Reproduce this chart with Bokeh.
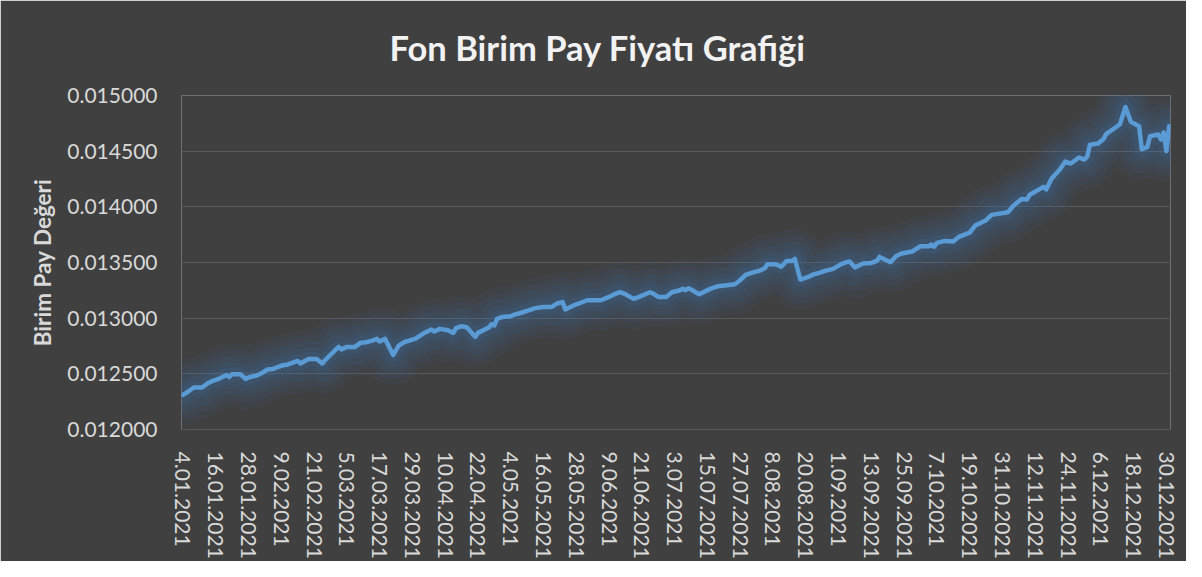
from datetime import datetime
from bokeh.plotting import figure
from bokeh.models import Range1d, FixedTicker, NumeralTickFormatter, ColumnDataSource
from bokeh.embed import file_html
from bokeh.resources import INLINE

# ---------------- data ----------------
dates = [
    "4.01.2021", "6.01.2021", "8.01.2021", "11.01.2021", "13.01.2021", "15.01.2021", "17.01.2021",
    "20.01.2021", "21.01.2021", "22.01.2021", "25.01.2021", "27.01.2021", "28.01.2021", "31.01.2021",
    "2.02.2021", "4.02.2021", "6.02.2021", "8.02.2021", "10.02.2021", "11.02.2021", "15.02.2021",
    "16.02.2021", "19.02.2021", "22.02.2021", "24.02.2021", "25.02.2021", "2.03.2021", "3.03.2021",
    "5.03.2021", "8.03.2021", "10.03.2021", "12.03.2021", "14.03.2021", "16.03.2021", "17.03.2021",
    "19.03.2021", "22.03.2021", "24.03.2021", "26.03.2021", "29.03.2021", "30.03.2021", "2.04.2021",
    "5.04.2021", "6.04.2021", "8.04.2021", "11.04.2021", "13.04.2021", "14.04.2021", "16.04.2021",
    "18.04.2021", "21.04.2021", "22.04.2021", "26.04.2021", "27.04.2021", "28.04.2021", "29.04.2021",
    "1.05.2021", "4.05.2021", "5.05.2021", "7.05.2021", "10.05.2021", "13.05.2021", "16.05.2021",
    "19.05.2021", "21.05.2021", "23.05.2021", "24.05.2021", "27.05.2021", "29.05.2021", "1.06.2021",
    "6.06.2021", "9.06.2021", "11.06.2021", "13.06.2021", "15.06.2021", "18.06.2021", "20.06.2021",
    "24.06.2021", "25.06.2021", "27.06.2021", "30.06.2021", "2.07.2021", "5.07.2021", "6.07.2021",
    "7.07.2021", "8.07.2021", "9.07.2021", "12.07.2021", "16.07.2021", "19.07.2021", "25.07.2021",
    "27.07.2021", "29.07.2021", "1.08.2021", "3.08.2021", "5.08.2021", "6.08.2021", "9.08.2021",
    "11.08.2021", "13.08.2021", "15.08.2021", "16.08.2021", "18.08.2021", "21.08.2021", "23.08.2021",
    "25.08.2021", "27.08.2021", "30.08.2021", "2.09.2021", "4.09.2021", "5.09.2021", "7.09.2021",
    "10.09.2021", "13.09.2021", "15.09.2021", "16.09.2021", "20.09.2021", "22.09.2021", "24.09.2021",
    "28.09.2021", "1.10.2021", "4.10.2021", "5.10.2021", "6.10.2021", "7.10.2021", "10.10.2021",
    "13.10.2021", "15.10.2021", "19.10.2021", "21.10.2021", "25.10.2021", "27.10.2021", "2.11.2021",
    "4.11.2021", "7.11.2021", "9.11.2021", "10.11.2021", "15.11.2021", "16.11.2021", "18.11.2021",
    "21.11.2021", "23.11.2021", "25.11.2021", "28.11.2021", "30.11.2021", "1.12.2021", "2.12.2021",
    "5.12.2021", "7.12.2021", "8.12.2021", "11.12.2021", "13.12.2021", "15.12.2021", "17.12.2021",
    "20.12.2021", "21.12.2021", "23.12.2021", "24.12.2021", "27.12.2021", "28.12.2021", "29.12.2021",
    "30.12.2021", "31.12.2021",
]

prices = [
    0.012311, 0.012341, 0.012377, 0.012377, 0.012413, 0.012437, 0.012454,
    0.012490, 0.012472, 0.012497, 0.012497, 0.012454, 0.012467, 0.012485,
    0.012508, 0.012539, 0.012544, 0.012562, 0.012580, 0.012580, 0.012616,
    0.012593, 0.012634, 0.012634, 0.012593, 0.012622, 0.012742, 0.012719,
    0.012742, 0.012742, 0.012778, 0.012784, 0.012796, 0.012814, 0.012790,
    0.012814, 0.012670, 0.012754, 0.012784, 0.012808, 0.012814, 0.012862,
    0.012898, 0.012880, 0.012904, 0.012892, 0.012868, 0.012910, 0.012928,
    0.012916, 0.012832, 0.012868, 0.012916, 0.012946, 0.012934, 0.012993,
    0.013011, 0.013017, 0.013029, 0.013042, 0.013065, 0.013090, 0.013101,
    0.013101, 0.013132, 0.013144, 0.013078, 0.013114, 0.013132, 0.013161,
    0.013161, 0.013191, 0.013215, 0.013233, 0.013215, 0.013173, 0.013191,
    0.013233, 0.013222, 0.013191, 0.013191, 0.013233, 0.013251, 0.013263,
    0.013251, 0.013269, 0.013257, 0.013215, 0.013263, 0.013287, 0.013305,
    0.013341, 0.013389, 0.013413, 0.013425, 0.013449, 0.013485, 0.013485,
    0.013461, 0.013514, 0.013514, 0.013532, 0.013347, 0.013371, 0.013395,
    0.013407, 0.013425, 0.013443, 0.013485, 0.013503, 0.013509, 0.013455,
    0.013491, 0.013496, 0.013514, 0.013550, 0.013503, 0.013557, 0.013581,
    0.013599, 0.013646, 0.013646, 0.013662, 0.013642, 0.013676, 0.013694,
    0.013689, 0.013730, 0.013768, 0.013832, 0.013880, 0.013928, 0.013952,
    0.014010, 0.014071, 0.014066, 0.014109, 0.014179, 0.014156, 0.014255,
    0.014335, 0.014407, 0.014389, 0.014443, 0.014425, 0.014450, 0.014558,
    0.014569, 0.014610, 0.014655, 0.014706, 0.014742, 0.014897, 0.014764,
    0.014724, 0.014518, 0.014536, 0.014634, 0.014650, 0.014605, 0.014670,
    0.014501, 0.014724,
]

tick_labels = [
    "4.01.2021", "16.01.2021", "28.01.2021", "9.02.2021", "21.02.2021", "5.03.2021",
    "17.03.2021", "29.03.2021", "10.04.2021", "22.04.2021", "4.05.2021", "16.05.2021",
    "28.05.2021", "9.06.2021", "21.06.2021", "3.07.2021", "15.07.2021", "27.07.2021",
    "8.08.2021", "20.08.2021", "1.09.2021", "13.09.2021", "25.09.2021", "7.10.2021",
    "19.10.2021", "31.10.2021", "12.11.2021", "24.11.2021", "6.12.2021", "18.12.2021",
    "30.12.2021",
]

y_ticks = [0.0120, 0.0125, 0.0130, 0.0135, 0.0140, 0.0145, 0.0150]

title_text = "Fon Birim Pay Fiyatı Grafiği"
y_title = "Birim Pay Değeri"

# ---------------- build ----------------
FMT = "%d.%m.%Y"
start = datetime.strptime(dates[0], FMT)
end = datetime.strptime(dates[-1], FMT)


def day_of(s):
    return (datetime.strptime(s, FMT) - start).days


xs = [day_of(d) for d in dates]
tick_x = [day_of(t) for t in tick_labels]
span = (end - start).days

src = ColumnDataSource(dict(x=xs, y=prices))

BG = "#404040"
GRID = "#5a5a5a"
TXT = "#d9d9d9"
BLUE = "#5b9bd5"
GLOW = "#3a78b5"

p = figure(
    width=1186, height=561,
    output_backend="svg", toolbar_location=None,
    x_range=Range1d(-0.5, span + 0.5),
    y_range=Range1d(y_ticks[0], y_ticks[-1]),
    min_border_left=181, min_border_right=16,
    min_border_top=95, min_border_bottom=132,
    background_fill_color=BG, border_fill_color=BG,
)
p.outline_line_color = None

# title
p.title.text = title_text
p.title.text_font = "Lato"
p.title.text_font_style = "bold"
p.title.text_font_size = "34.5px"
p.title.text_color = "#f2f2f2"
p.title.align = "left"
p.title.offset = 208
p.title.vertical_align = "top"
p.title.standoff = 52

# soft glow around the line
for w, a in [(60, 0.07), (48, 0.08), (36, 0.09), (24, 0.10), (14, 0.12)]:
    p.line("x", "y", source=src, line_color=GLOW, line_width=w, line_alpha=a,
           line_join="round", line_cap="round")
p.line("x", "y", source=src, line_color=BLUE, line_width=4.5,
       line_join="round", line_cap="round")

# grid
p.xgrid.visible = False
p.ygrid.ticker = FixedTicker(ticks=y_ticks)
p.ygrid.grid_line_color = GRID
p.ygrid.grid_line_width = 1

# y axis
ya = p.yaxis[0]
ya.ticker = FixedTicker(ticks=y_ticks)
ya.formatter = NumeralTickFormatter(format="0.000000")
ya.axis_line_color = None
ya.major_tick_line_color = None
ya.minor_tick_line_color = None
ya.major_label_standoff = 18
ya.major_label_text_font = "Lato"
ya.major_label_text_font_size = "21px"
ya.major_label_text_color = TXT
ya.axis_label = y_title
ya.axis_label_text_font = "Lato"
ya.axis_label_text_font_style = "bold"
ya.axis_label_text_font_size = "22.5px"
ya.axis_label_text_color = TXT
ya.axis_label_standoff = 8

# x axis
xa = p.xaxis[0]
xa.ticker = FixedTicker(ticks=tick_x)
xa.major_label_overrides = {t: lab for t, lab in zip(tick_x, tick_labels)}
xa.major_label_orientation = "vertical"
xa.axis_line_color = GRID
xa.major_tick_line_color = None
xa.minor_tick_line_color = None
xa.major_label_standoff = 16
xa.major_label_text_font = "Lato"
xa.major_label_text_font_size = "21px"
xa.major_label_text_color = TXT

open("out.html", "w").write(file_html(p, INLINE))
